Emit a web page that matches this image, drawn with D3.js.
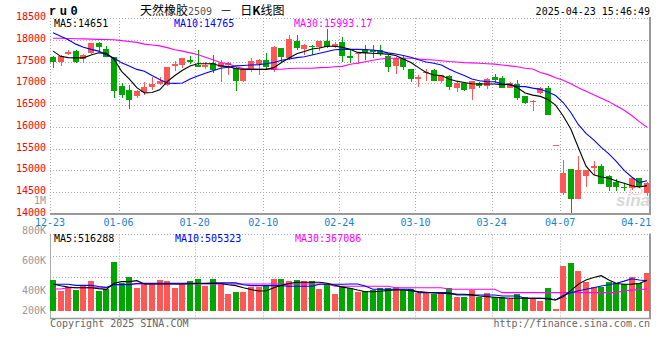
<!DOCTYPE html>
<html><head><meta charset="utf-8">
<script src="https://cdn.jsdelivr.net/npm/d3@7"></script>
<style>
body{margin:0;background:#fff}
svg{display:block}
text{font-family:'DejaVu Sans Mono','Liberation Mono',monospace;font-size:10px}
</style>
</head><body>
<svg id="c" width="660" height="360"></svg>
<script>
const dates = ['12-23','12-24','12-25','12-26','12-27','12-30','12-31','01-02','01-03','01-06','01-07','01-08','01-09','01-10','01-13','01-14','01-15','01-16','01-17','01-20','01-21','01-22','01-23','01-24','01-27','02-05','02-06','02-07','02-10','02-11','02-12','02-13','02-14','02-17','02-18','02-19','02-20','02-21','02-24','02-25','02-26','02-27','02-28','03-03','03-04','03-05','03-06','03-07','03-10','03-11','03-12','03-13','03-14','03-17','03-18','03-19','03-20','03-21','03-24','03-25','03-26','03-27','03-28','03-31','04-01','04-02','04-03','04-07','04-08','04-09','04-10','04-11','04-14','04-15','04-16','04-17','04-18','04-21','04-22'];

const open  = [17604,17497,17674,17742,17552,17690,17933,17781,17598,16938, 16847,16701,16801,16923,16992,16954,17390,17413,17543,17428, 17367,17466,17383,17430,17344,17061,17306,17444,17536,17306, 17804,17574,17972,17788,17865,17842,17972,17842,17941,17635, 17666,17765,17765,17765,17627,17405,17589,17321,17092,17230, 17306,17061,17168,16885,17015,16870,17015,16947,17138,17130, 16900,16985,16709,16572,16771,16886,15577,14475,15033,14337, 14873,15064,15102,14873,14743,14628,14590,14819,14475];
const high  = [17620,17645,17760,17760,17680,17930,17940,17857,17610,17007, 16969,16854,17030,17145,17145,17367,17505,17581,17620,17770, 17482,17640,17536,17497,17383,17344,17589,17550,17689,17850, 17810,18110,18110,17903,17880,17980,18240,17950,18071,17765, 17730,17880,17880,17880,17650,17612,17627,17321,17191,17322, 17320,17200,17180,17038,17030,17060,17038,17115,17214,17176, 17030,17077,16720,16617,16924,16939,15577,15240,15033,15340, 15010,15217,15148,14896,14796,14689,14819,14830,14730];
const low   = [17352,17406,17640,17470,17465,17680,17726,17600,16663,16663, 16400,16663,16739,16854,16969,16946,17275,17352,17440,17367, 17336,17237,17038,17191,16832,17038,17268,17191,17306,17268, 17498,17540,17765,17650,17650,17750,17800,17820,17497,17459, 17436,17536,17574,17620,17268,17214,17306,17038,16924,17061, 17050,17000,16847,16809,16830,16617,16900,16870,17000,16885, 16890,16617,16530,16373,16748,16273,15577,14437,14031,14337, 14628,14896,14689,14536,14536,14536,14552,14600,14414];
const close = [17497,17634,17726,17497,17650,17919,17841,17611,16831,16739, 16625,16816,16923,16992,17061,17367,17451,17581,17482,17375, 17428,17313,17474,17474,17061,17321,17513,17536,17367,17842, 17612,18010,17804,17880,17827,17972,17827,17903,17635,17589, 17704,17689,17727,17674,17367,17590,17383,17092,17153,17268, 17061,17191,16924,17000,16847,17054,16947,17100,17077,16900, 17015,16671,16541,16602,16900,16273,15577,14934,14337,15010, 15010,15102,14689,14628,14620,14590,14819,14628,14720];

const ma5  = [17740,17620,17590,17585,17585,17650,17700,17690,17560,17275, 17100,16900,16780,16790,16850,17040,17180,17300,17400,17450, 17451,17451,17400,17383,17340,17321,17321,17321,17321,17360, 17480,17580,17680,17730,17790,17810,17850,17850,17830,17780, 17710,17700,17690,17680,17670,17640,17560,17480,17360,17250, 17190,17180,17100,17050,17020,16990,16985,16985,16985,16970, 16980,16900,16780,16730,16700,16630,16500,16250,15950,15520, 15100,14900,14850,14819,14760,14705,14650,14620,14651];
const ma10 = [18160,18080,18000,17900,17830,17780,17740,17650,17580,17470, 17400,17320,17276,17180,17090,17008,17000,17008,17100,17170, 17230,17290,17345,17370,17400,17410,17421,17430,17450,17480, 17530,17560,17590,17612,17650,17689,17730,17770,17780,17780, 17780,17775,17765,17740,17700,17674,17640,17600,17540,17490, 17460,17420,17330,17250,17180,17100,17060,17040,17038,16990, 16960,16930,16924,16890,16862,16800,16720,16560,16330,16050, 15850,15700,15530,15380,15200,15000,14850,14720,14765];
const ma30 = [18034,18034,18030,18025,18020,18015,18010,18005,18000,17980, 17960,17940,17900,17880,17860,17820,17770,17740,17700,17660, 17600,17540,17480,17450,17380,17340,17330,17322,17322,17322, 17322,17340,17345,17345,17345,17360,17365,17380,17390,17440, 17460,17497,17530,17560,17575,17575,17575,17575,17560,17545, 17536,17520,17500,17490,17475,17470,17460,17450,17440,17421, 17400,17380,17345,17330,17250,17200,17130,17070,16990,16900, 16820,16740,16660,16580,16480,16380,16260,16120,15993];

const volume = [519,335,397,352,424,503,335,369,821,474, 570,385,464,464,519,503,385,447,503,536, 424,536,474,290,323,323,397,407,436,536, 536,503,519,503,503,369,447,290,419,380, 318,330,352,380,390,407,352,369,302,318, 285,296,385,235,235,357,235,296,235,235, 206,290,235,206,173,385,39,759,809,675, 491,402,407,486,464,447,570,464,637];
const volMa5 = [452,424,400,390,390,390,375,363,464,491, 491,508,452,452,452,452,452,452,455,460, 460,460,460,440,424,390,360,335,340,390, 430,460,480,480,480,480,464,430,400,380, 350,323,323,330,345,352,352,340,325,313, 300,296,290,282,280,270,250,240,230,220, 213,213,213,213,213,200,184,240,340,450, 520,560,591,519,460,447,450,460,516];
const volMa10 = [447,447,447,429,429,429,410,395,441,441, 441,460,464,464,464,464,464,464,464,464, 464,470,470,470,470,440,425,425,425,425, 425,413,413,413,413,447,447,447,447,452, 452,420,363,363,363,363,363,363,307,307, 307,307,307,268,268,268,268,268,268,250, 250,250,213,213,213,213,184,260,307,340, 363,390,419,440,464,500,540,520,505];
const volMa30 = [369,369,390,390,390,390,390,390,441,441, 452,452,452,452,452,452,452,452,452,452, 452,452,452,452,452,452,452,452,452,452, 452,452,452,452,452,452,452,413,413,413, 413,413,413,413,413,390,390,390,390,390, 390,390,363,363,363,363,363,363,363,307, 307,307,307,307,307,307,307,307,307,307, 307,307,307,307,307,340,350,360,367];

const priceTicks = [18500,18000,17500,17000,16500,16000,15500,15000,14500,14000];
const volTickLabels = ['800K','600K','400K','200K'];
const volTickValues = [800000,600000,400000,200000];
const dateTicks = ['12-23','01-06','01-20','02-10','02-24','03-10','03-24','04-07','04-21'];
const dateGrid = ['01-06','01-20','02-10','02-24','03-10','03-24','04-07'];

const RED = '#ff5656', GREEN = '#00a600';
const svg = d3.select('#c');
const L = 50, R = 650, T = 18, B = 214;
const VT = 234.5, VB = 318.5, VBASE = 311;

const x = d3.scaleBand().domain(dates).range([L, R]).paddingInner(0.2).paddingOuter(0);
const bw = Math.round(x.bandwidth());
const y = d3.scaleLinear().domain([14000, 18500]).range([B, T]);
const vy = d3.scaleLinear().domain([0, 800000]).range([VBASE, VBASE - 47.8]);
const vTickY = d3.scaleLinear().domain([200000, 800000]).range([321, 231]);

const gridC = '#aaa';
// ---- main panel grid
const g = svg.append('g');
priceTicks.slice(0, -1).forEach(p => {
  g.append('line').attr('x1', L).attr('x2', R).attr('y1', Math.round(y(p)) + 0.5).attr('y2', Math.round(y(p)) + 0.5)
    .attr('stroke', gridC).attr('stroke-dasharray', '1,2');
});
dateGrid.forEach(d => {
  const xx = Math.round(x(d)) + 0.5;
  g.append('line').attr('x1', xx).attr('x2', xx).attr('y1', T).attr('y2', B).attr('stroke', gridC).attr('stroke-dasharray', '1,2');
  g.append('line').attr('x1', xx).attr('x2', xx).attr('y1', VT).attr('y2', VB + 3).attr('stroke', gridC).attr('stroke-dasharray', '1,2');
});
g.append('line').attr('x1', L + 0.5).attr('x2', L + 0.5).attr('y1', T).attr('y2', B).attr('stroke', gridC).attr('stroke-dasharray', '1,2');
g.append('line').attr('x1', R).attr('x2', R).attr('y1', T - 1).attr('y2', B + 1).attr('stroke', '#999').attr('stroke-width', 2);
g.append('line').attr('x1', L).attr('x2', R + 1).attr('y1', B).attr('y2', B).attr('stroke', '#999').attr('stroke-width', 2);

// volume panel grid
[0.25, 0.5, 0.75].forEach(f => {
  const yy = Math.round(VT + (VB - VT) * f) + 0.5;
  g.append('line').attr('x1', L).attr('x2', R).attr('y1', yy).attr('y2', yy).attr('stroke', gridC).attr('stroke-dasharray', '1,2');
});
g.append('line').attr('x1', L).attr('x2', R).attr('y1', VT).attr('y2', VT).attr('stroke', gridC).attr('stroke-dasharray', '1,2');
g.append('line').attr('x1', L + 0.5).attr('x2', L + 0.5).attr('y1', VT).attr('y2', VB).attr('stroke', '#aaa');
g.append('line').attr('x1', R).attr('x2', R).attr('y1', VT - 1).attr('y2', VB).attr('stroke', '#999').attr('stroke-width', 2);
g.append('line').attr('x1', L).attr('x2', R + 1).attr('y1', VB).attr('y2', VB).attr('stroke', '#999').attr('stroke-width', 1.5);

// watermark
svg.append('text').attr('x', 650).attr('y', 206).attr('text-anchor', 'end')
  .style('font-family', 'Liberation Sans, Arial, sans-serif').style('font-size', '17px').style('font-style', 'italic').style('font-weight', 'bold')
  .attr('fill', '#d8d8d8').text('sina');
svg.append('ellipse').attr('cx', 636).attr('cy', 191).attr('rx', 6).attr('ry', 3.5).attr('fill', 'none').attr('stroke', '#f3caca').attr('stroke-width', 1.2);

// ---- candles
const data = dates.map((d, i) => ({d, o: open[i], h: high[i], l: low[i], c: close[i], v: volume[i] * 1000}));
const cg = svg.append('g').attr('shape-rendering', 'crispEdges');
data.forEach(k => {
  const col = k.c >= k.o ? RED : GREEN;
  const bx = Math.round(x(k.d));
  const cx = bx + Math.floor(bw / 2);
  const yt = Math.round(y(Math.max(k.o, k.c)));
  const yb = Math.round(y(Math.min(k.o, k.c)));
  cg.append('rect').attr('x', cx).attr('width', 1).attr('y', Math.round(y(k.h))).attr('height', Math.max(1, Math.round(y(k.l)) - Math.round(y(k.h)))).attr('fill', col);
  cg.append('rect').attr('x', bx).attr('width', bw).attr('y', yt).attr('height', Math.max(1, yb - yt)).attr('fill', col);
  // volume
  const vt = Math.round(vy(k.v));
  cg.append('rect').attr('x', bx).attr('width', bw).attr('y', vt).attr('height', Math.max(1, VBASE - vt)).attr('fill', col);
});

// ---- MA lines
const cx = d => x(d) + x.bandwidth() / 2;
const line = (arr, sc, k) => d3.line().x((v, i) => cx(dates[i])).y(v => sc(v * k))(arr);
[[ma30, '#ff00ff'], [ma10, '#0000ff'], [ma5, '#000000']].forEach(([a, c]) => {
  svg.append('path').attr('d', line(a, y, 1)).attr('fill', 'none').attr('stroke', c).attr('stroke-width', 1.1);
});
[[volMa30, '#ff00ff'], [volMa10, '#0000ff'], [volMa5, '#000000']].forEach(([a, c]) => {
  svg.append('path').attr('d', line(a, vy, 1000)).attr('fill', 'none').attr('stroke', c).attr('stroke-width', 1.1);
});

// ---- axis labels
const lab = svg.append('g');
priceTicks.forEach(p => {
  lab.append('text').attr('x', 46).attr('y', Math.round(y(p)) + 2).attr('text-anchor', 'end').attr('fill', '#f00').text(p);
});
lab.append('text').attr('x', 46).attr('y', 204).attr('text-anchor', 'end').attr('fill', '#999').text('1M');
volTickValues.forEach((v, i) => {
  lab.append('text').attr('x', 46).attr('y', Math.min(vTickY(v), VBASE) + 3.3).attr('text-anchor', 'end').attr('fill', '#999').text(volTickLabels[i]);
});
dateTicks.forEach(d => {
  lab.append('text').attr('x', x(d)).attr('y', 225.5).attr('text-anchor', 'middle').attr('fill', '#1a82d2').text(d);
});

// MA legends
const last = a => a[a.length - 1];
lab.append('text').attr('x', 54).attr('y', 27).attr('fill', '#000').text('MA5:' + last(ma5));
lab.append('text').attr('x', 174).attr('y', 27).attr('fill', '#0000ff').text('MA10:' + last(ma10));
lab.append('text').attr('x', 294).attr('y', 27).attr('fill', '#ff00ff').text('MA30:15993.17');
lab.append('text').attr('x', 54).attr('y', 242).attr('fill', '#000').text('MA5:516288');
lab.append('text').attr('x', 175).attr('y', 242).attr('fill', '#0000ff').text('MA10:505323');
lab.append('text').attr('x', 295).attr('y', 242).attr('fill', '#ff00ff').text('MA30:367086');

// titles
lab.append('text').attr('x', 49).attr('y', 15).style('font-family', 'Liberation Mono, monospace').style('font-size', '12px').style('font-weight', 'bold').style('letter-spacing', '3.5px').attr('fill', '#000').text('ru0');
const t = lab.append('text').attr('x', 140).attr('y', 15).style('font-family', "'Noto Sans CJK SC', sans-serif").style('font-size', '12px').attr('fill', '#000');
t.append('tspan').text('天然橡胶');
t.append('tspan').style('font-family', "'DejaVu Sans Mono', monospace").style('font-size', '10px').attr('fill', '#555').text('2509');
t.append('tspan').attr('dx', 8).text('－');
t.append('tspan').attr('dx', 8).text('日');
t.append('tspan').style('font-weight', 'bold').text('K');
t.append('tspan').text('线图');
lab.append('text').attr('x', 650).attr('y', 15).attr('text-anchor', 'end').attr('fill', '#000').text('2025-04-23 15:46:49');
lab.append('text').attr('x', 50).attr('y', 327).attr('fill', '#666').text('Copyright 2025 SINA.COM');
lab.append('text').attr('x', 650).attr('y', 327).attr('text-anchor', 'end').attr('fill', '#666').text('http://finance.sina.com.cn');
</script>
</body></html>
